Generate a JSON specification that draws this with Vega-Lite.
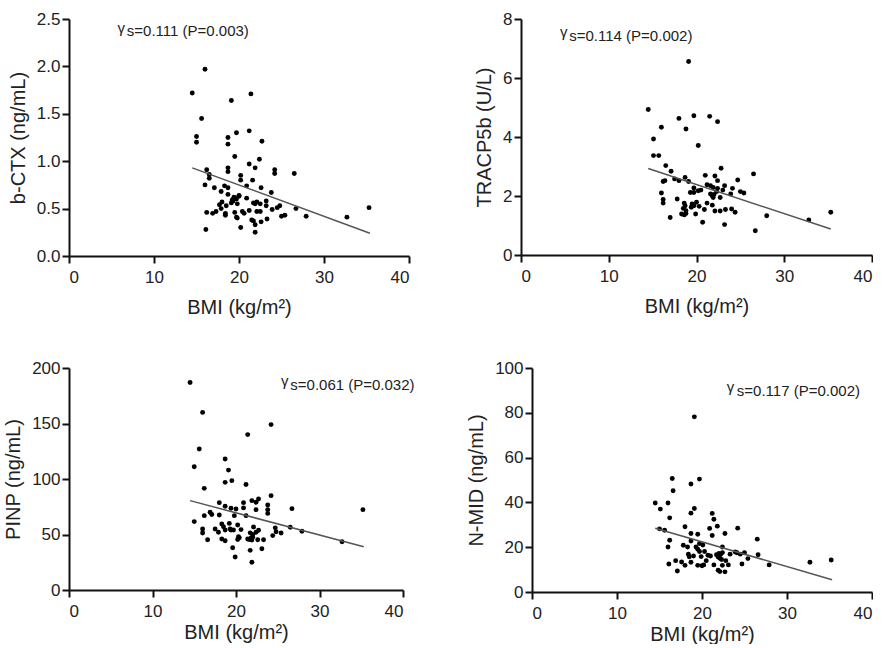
{
  "$schema": "https://vega.github.io/schema/vega-lite/v6.json",
  "background": "white",
  "padding": {"left": 3, "top": 10, "right": 0, "bottom": 0},
  "spacing": 42,
  "config": {
    "view": {"stroke": null},
    "font": "Liberation Sans",
    "axis": {"grid": false, "domainColor": "#111", "domainWidth": 2, "tickColor": "#111", "tickWidth": 2, "tickSize": 7,
             "labelFont": "Liberation Sans", "labelFontSize": 17, "labelColor": "#222", "labelPadding": 2,
             "titleFont": "Liberation Sans", "titleFontSize": 20, "titleFontWeight": "normal", "titleColor": "#222", "titlePadding": 8},
    "axisX": {"labelPadding": 6},
    "text": {"font": "Liberation Sans", "fontSize": 15, "color": "#222"}
  },
  "datasets": {
    "ctx": [
      {"bmi":16.0,"value":1.97},{"bmi":14.5,"value":1.72},{"bmi":21.4,"value":1.71},{"bmi":19.1,"value":1.64},{"bmi":15.6,"value":1.45},
      {"bmi":15.0,"value":1.26},{"bmi":15.0,"value":1.20},{"bmi":18.7,"value":1.25},{"bmi":18.7,"value":1.18},{"bmi":19.7,"value":1.30},
      {"bmi":21.2,"value":1.32},{"bmi":22.7,"value":1.21},{"bmi":19.5,"value":1.05},{"bmi":22.4,"value":1.02},{"bmi":21.2,"value":0.97},
      {"bmi":16.2,"value":0.91},{"bmi":18.7,"value":0.93},{"bmi":18.7,"value":0.89},{"bmi":20.2,"value":0.85},{"bmi":20.2,"value":0.80},
      {"bmi":21.9,"value":0.93},{"bmi":24.2,"value":0.91},{"bmi":24.2,"value":0.87},{"bmi":26.5,"value":0.87},{"bmi":16.5,"value":0.86},
      {"bmi":16.5,"value":0.82},{"bmi":16.0,"value":0.75},{"bmi":17.1,"value":0.72},{"bmi":18.3,"value":0.74},{"bmi":18.7,"value":0.72},
      {"bmi":20.9,"value":0.74},{"bmi":21.6,"value":0.80},{"bmi":22.6,"value":0.72},{"bmi":23.8,"value":0.67},{"bmi":17.9,"value":0.68},
      {"bmi":18.7,"value":0.65},{"bmi":18.0,"value":0.57},{"bmi":19.2,"value":0.59},{"bmi":19.4,"value":0.62},{"bmi":19.7,"value":0.60},
      {"bmi":20.0,"value":0.63},{"bmi":19.1,"value":0.56},{"bmi":18.5,"value":0.53},{"bmi":17.9,"value":0.50},{"bmi":17.3,"value":0.47},
      {"bmi":16.9,"value":0.45},{"bmi":16.2,"value":0.46},{"bmi":18.4,"value":0.45},{"bmi":18.4,"value":0.43},{"bmi":19.5,"value":0.46},
      {"bmi":19.7,"value":0.41},{"bmi":20.4,"value":0.47},{"bmi":20.6,"value":0.45},{"bmi":20.9,"value":0.61},{"bmi":21.7,"value":0.56},
      {"bmi":22.1,"value":0.57},{"bmi":22.5,"value":0.55},{"bmi":23.2,"value":0.58},{"bmi":23.2,"value":0.53},{"bmi":22.1,"value":0.47},
      {"bmi":22.5,"value":0.47},{"bmi":23.9,"value":0.49},{"bmi":24.5,"value":0.51},{"bmi":24.8,"value":0.53},{"bmi":25.0,"value":0.42},
      {"bmi":25.4,"value":0.43},{"bmi":26.7,"value":0.50},{"bmi":27.9,"value":0.42},{"bmi":32.7,"value":0.41},{"bmi":35.3,"value":0.51},
      {"bmi":16.1,"value":0.28},{"bmi":20.2,"value":0.30},{"bmi":21.9,"value":0.25},{"bmi":21.5,"value":0.38},{"bmi":21.7,"value":0.37},
      {"bmi":21.9,"value":0.33},{"bmi":22.6,"value":0.36},{"bmi":23.3,"value":0.39},{"bmi":21.2,"value":0.48},{"bmi":19.8,"value":0.55},
      {"bmi":19.3,"value":0.58},{"bmi":21.9,"value":0.55},{"bmi":19.8,"value":0.40},{"bmi":17.7,"value":0.54},{"bmi":20.0,"value":0.64},
      {"bmi":19.6,"value":0.61}
    ],
    "ctx_fit": [{"bmi":14.5,"value":0.93},{"bmi":35.4,"value":0.24}],
    "ctx_note": [{"bmi":5.7,"value":2.41,"label":"γ"},{"bmi":6.8,"value":2.37,"label":"s=0.111 (P=0.003)"}],
    "tracp": [
      {"bmi":19.1,"value":6.56},{"bmi":14.5,"value":4.93},{"bmi":18.0,"value":4.63},{"bmi":19.7,"value":4.72},{"bmi":21.5,"value":4.70},
      {"bmi":22.4,"value":4.52},{"bmi":16.0,"value":4.33},{"bmi":18.8,"value":4.27},{"bmi":15.1,"value":3.93},{"bmi":20.2,"value":3.71},
      {"bmi":15.1,"value":3.37},{"bmi":15.7,"value":3.37},{"bmi":16.5,"value":3.03},{"bmi":17.1,"value":2.84},{"bmi":22.8,"value":2.94},
      {"bmi":26.5,"value":2.75},{"bmi":16.2,"value":2.49},{"bmi":16.4,"value":2.52},{"bmi":17.5,"value":2.58},{"bmi":18.0,"value":2.52},
      {"bmi":18.7,"value":2.63},{"bmi":19.1,"value":2.49},{"bmi":21.0,"value":2.70},{"bmi":22.1,"value":2.68},{"bmi":22.4,"value":2.52},
      {"bmi":24.7,"value":2.54},{"bmi":21.2,"value":2.38},{"bmi":21.6,"value":2.35},{"bmi":21.9,"value":2.29},{"bmi":23.2,"value":2.35},
      {"bmi":19.7,"value":2.27},{"bmi":20.2,"value":2.18},{"bmi":19.3,"value":2.12},{"bmi":19.7,"value":2.12},{"bmi":16.0,"value":2.10},
      {"bmi":24.1,"value":2.26},{"bmi":25.0,"value":2.15},{"bmi":25.4,"value":2.10},{"bmi":22.4,"value":2.26},{"bmi":21.6,"value":2.07},
      {"bmi":21.8,"value":2.01},{"bmi":22.7,"value":1.95},{"bmi":23.9,"value":2.07},{"bmi":17.8,"value":1.90},{"bmi":16.2,"value":1.88},
      {"bmi":16.2,"value":1.76},{"bmi":18.6,"value":1.76},{"bmi":18.7,"value":1.67},{"bmi":19.5,"value":1.73},{"bmi":19.7,"value":1.67},
      {"bmi":20.0,"value":1.79},{"bmi":20.3,"value":1.65},{"bmi":21.2,"value":1.76},{"bmi":21.8,"value":1.69},{"bmi":18.5,"value":1.58},
      {"bmi":18.8,"value":1.50},{"bmi":20.9,"value":1.54},{"bmi":22.1,"value":1.49},{"bmi":22.7,"value":1.49},{"bmi":23.3,"value":1.54},
      {"bmi":24.0,"value":1.56},{"bmi":24.4,"value":1.45},{"bmi":18.3,"value":1.39},{"bmi":18.6,"value":1.36},{"bmi":18.8,"value":1.41},
      {"bmi":19.9,"value":1.39},{"bmi":28.0,"value":1.33},{"bmi":35.3,"value":1.45},{"bmi":32.8,"value":1.19},{"bmi":17.0,"value":1.27},
      {"bmi":20.7,"value":1.11},{"bmi":23.2,"value":1.03},{"bmi":26.7,"value":0.82},{"bmi":22.0,"value":2.05},{"bmi":20.5,"value":2.20},
      {"bmi":19.4,"value":1.62},{"bmi":21.9,"value":1.95},{"bmi":23.0,"value":2.20},{"bmi":22.3,"value":2.15}
    ],
    "tracp_fit": [{"bmi":14.5,"value":2.93},{"bmi":35.3,"value":0.88}],
    "tracp_note": [{"bmi":4.45,"value":7.55,"label":"γ"},{"bmi":5.5,"value":7.42,"label":"s=0.114 (P=0.002)"}],
    "pinp": [
      {"bmi":14.5,"value":187},{"bmi":16.0,"value":160},{"bmi":24.2,"value":149},{"bmi":21.4,"value":140},{"bmi":15.6,"value":127},
      {"bmi":15.0,"value":111},{"bmi":18.7,"value":118},{"bmi":19.1,"value":108},{"bmi":19.5,"value":98.5},{"bmi":18.7,"value":97},
      {"bmi":21.2,"value":95},{"bmi":16.2,"value":91.6},{"bmi":24.2,"value":85},{"bmi":15.0,"value":61.6},{"bmi":16.2,"value":67},
      {"bmi":16.9,"value":70},{"bmi":17.1,"value":68},{"bmi":18.0,"value":78.7},{"bmi":18.7,"value":75.4},{"bmi":19.4,"value":73.6},
      {"bmi":20.0,"value":73},{"bmi":20.9,"value":78.7},{"bmi":20.9,"value":74},{"bmi":21.9,"value":80.5},{"bmi":22.7,"value":82},
      {"bmi":22.4,"value":79},{"bmi":23.8,"value":72.4},{"bmi":23.8,"value":76.6},{"bmi":23.8,"value":69},{"bmi":26.7,"value":73.3},
      {"bmi":35.2,"value":72.4},{"bmi":19.8,"value":67},{"bmi":21.2,"value":67},{"bmi":22.4,"value":72.4},{"bmi":18.0,"value":67.6},
      {"bmi":17.5,"value":55},{"bmi":18.3,"value":59.5},{"bmi":18.5,"value":57},{"bmi":18.7,"value":54},{"bmi":17.9,"value":52},
      {"bmi":16.0,"value":55},{"bmi":16.0,"value":51.4},{"bmi":19.2,"value":60},{"bmi":19.4,"value":54},{"bmi":19.7,"value":54},
      {"bmi":20.2,"value":58.6},{"bmi":20.6,"value":54.4},{"bmi":22.1,"value":56.8},{"bmi":22.4,"value":52},{"bmi":22.7,"value":53.8},
      {"bmi":24.7,"value":56},{"bmi":25.4,"value":51.4},{"bmi":24.4,"value":49},{"bmi":26.5,"value":56.5},{"bmi":27.9,"value":52.9},
      {"bmi":32.7,"value":43.5},{"bmi":16.6,"value":45.3},{"bmi":18.3,"value":46},{"bmi":18.7,"value":44.4},{"bmi":20.3,"value":48},
      {"bmi":20.2,"value":45.5},{"bmi":20.4,"value":47},{"bmi":21.4,"value":46},{"bmi":21.6,"value":45.5},{"bmi":21.8,"value":47},
      {"bmi":21.9,"value":45},{"bmi":22.0,"value":47.5},{"bmi":22.6,"value":45.3},{"bmi":23.3,"value":45.3},{"bmi":19.6,"value":38},
      {"bmi":21.7,"value":35.7},{"bmi":23.1,"value":37.2},{"bmi":19.9,"value":29.7},{"bmi":21.9,"value":25},{"bmi":24.8,"value":52.5},
      {"bmi":22.0,"value":50},{"bmi":21.7,"value":51.5},{"bmi":19.3,"value":55}
    ],
    "pinp_fit": [{"bmi":14.5,"value":80.5},{"bmi":35.3,"value":39}],
    "pinp_note": [{"bmi":25.4,"value":188,"label":"γ"},{"bmi":26.5,"value":184.5,"label":"s=0.061 (P=0.032)"}],
    "nmid": [
      {"bmi":19.1,"value":78.2},{"bmi":16.5,"value":50.7},{"bmi":19.7,"value":50.4},{"bmi":18.7,"value":48.2},{"bmi":16.6,"value":45.2},
      {"bmi":14.5,"value":39.7},{"bmi":16.0,"value":39.7},{"bmi":15.1,"value":37.0},{"bmi":19.1,"value":37.3},{"bmi":18.7,"value":35.2},
      {"bmi":21.2,"value":35.1},{"bmi":21.4,"value":32.5},{"bmi":16.2,"value":33.1},{"bmi":21.8,"value":29.4},{"bmi":18.0,"value":29.1},
      {"bmi":24.2,"value":28.5},{"bmi":20.9,"value":28.4},{"bmi":15.0,"value":28.2},{"bmi":15.6,"value":27.6},{"bmi":18.7,"value":26.1},
      {"bmi":19.5,"value":25.8},{"bmi":21.2,"value":25.2},{"bmi":22.7,"value":26.1},{"bmi":26.5,"value":23.6},{"bmi":16.2,"value":23.1},
      {"bmi":18.7,"value":22.8},{"bmi":19.7,"value":21.6},{"bmi":20.1,"value":21.0},{"bmi":16.0,"value":20.1},{"bmi":17.8,"value":20.9},
      {"bmi":18.3,"value":20.1},{"bmi":19.3,"value":20.1},{"bmi":19.5,"value":19.1},{"bmi":19.7,"value":18.1},{"bmi":22.4,"value":20.1},
      {"bmi":20.3,"value":18.1},{"bmi":22.4,"value":17.6},{"bmi":22.0,"value":17.2},{"bmi":22.2,"value":16.8},{"bmi":23.9,"value":17.9},
      {"bmi":24.1,"value":17.5},{"bmi":23.3,"value":16.9},{"bmi":25.0,"value":17.5},{"bmi":24.5,"value":16.9},{"bmi":26.6,"value":16.6},
      {"bmi":18.4,"value":16.9},{"bmi":18.5,"value":15.7},{"bmi":19.0,"value":16.1},{"bmi":19.9,"value":15.8},{"bmi":20.7,"value":16.4},
      {"bmi":21.0,"value":16.1},{"bmi":21.7,"value":16.6},{"bmi":21.9,"value":15.6},{"bmi":25.4,"value":14.9},{"bmi":22.1,"value":15.1},
      {"bmi":22.3,"value":14.5},{"bmi":16.9,"value":14.0},{"bmi":17.6,"value":13.4},{"bmi":18.7,"value":13.3},{"bmi":16.1,"value":12.5},
      {"bmi":18.0,"value":11.9},{"bmi":19.5,"value":11.9},{"bmi":20.0,"value":11.7},{"bmi":20.2,"value":12.1},{"bmi":21.4,"value":12.1},
      {"bmi":22.4,"value":11.9},{"bmi":23.1,"value":12.1},{"bmi":24.7,"value":12.5},{"bmi":27.9,"value":12.1},{"bmi":32.7,"value":13.3},
      {"bmi":35.2,"value":14.3},{"bmi":17.1,"value":9.4},{"bmi":21.9,"value":9.7},{"bmi":22.1,"value":9.1},{"bmi":22.7,"value":9.0},
      {"bmi":20.5,"value":14.0},{"bmi":22.8,"value":14.0}
    ],
    "nmid_fit": [{"bmi":14.5,"value":28.5},{"bmi":35.3,"value":5.5}],
    "nmid_note": [{"bmi":22.9,"value":91.5,"label":"γ"},{"bmi":24.1,"value":89.8,"label":"s=0.117 (P=0.002)"}]
  },
  "vconcat": [
    {
      "bounds": "flush",
      "spacing": 112,
      "hconcat": [
        {
          "width": 340, "height": 237,
          "layer": [
            {"data": {"name": "ctx"}, "mark": {"type": "circle", "size": 24, "color": "#000", "opacity": 1},
             "encoding": {
               "x": {"field": "bmi", "type": "quantitative", "scale": {"domain": [0, 40], "nice": false}, "axis": {"values": [0, 10, 20, 30, 40], "title": "BMI (kg/m²)", "titlePadding": 12}},
               "y": {"field": "value", "type": "quantitative", "scale": {"domain": [0, 2.5], "nice": false}, "axis": {"values": [0, 0.5, 1, 1.5, 2, 2.5], "format": ".1f", "title": "b-CTX (ng/mL)"}}}},
            {"data": {"name": "ctx_fit"}, "mark": {"type": "line", "color": "#555", "strokeWidth": 1.5},
             "encoding": {"x": {"field": "bmi", "type": "quantitative"}, "y": {"field": "value", "type": "quantitative"}}},
            {"data": {"name": "ctx_note"}, "mark": {"type": "text", "align": "left", "baseline": "middle"},
             "encoding": {"x": {"field": "bmi", "type": "quantitative"}, "y": {"field": "value", "type": "quantitative"}, "text": {"field": "label"}}}
          ]
        },
        {
          "width": 351, "height": 236,
          "layer": [
            {"data": {"name": "tracp"}, "mark": {"type": "circle", "size": 24, "color": "#000", "opacity": 1},
             "encoding": {
               "x": {"field": "bmi", "type": "quantitative", "scale": {"domain": [0, 40], "nice": false}, "axis": {"values": [0, 10, 20, 30, 40], "title": "BMI (kg/m²)", "titlePadding": 12}},
               "y": {"field": "value", "type": "quantitative", "scale": {"domain": [0, 8], "nice": false}, "axis": {"values": [0, 2, 4, 6, 8], "title": "TRACP5b (U/L)"}}}},
            {"data": {"name": "tracp_fit"}, "mark": {"type": "line", "color": "#555", "strokeWidth": 1.5},
             "encoding": {"x": {"field": "bmi", "type": "quantitative"}, "y": {"field": "value", "type": "quantitative"}}},
            {"data": {"name": "tracp_note"}, "mark": {"type": "text", "align": "left", "baseline": "middle"},
             "encoding": {"x": {"field": "bmi", "type": "quantitative"}, "y": {"field": "value", "type": "quantitative"}, "text": {"field": "label"}}}
          ]
        }
      ]
    },
    {
      "bounds": "flush",
      "spacing": 129,
      "hconcat": [
        {
          "width": 334, "height": 222,
          "layer": [
            {"data": {"name": "pinp"}, "mark": {"type": "circle", "size": 24, "color": "#000", "opacity": 1},
             "encoding": {
               "x": {"field": "bmi", "type": "quantitative", "scale": {"domain": [0, 40], "nice": false}, "axis": {"values": [0, 10, 20, 30, 40], "title": "BMI (kg/m²)", "titlePadding": 3}},
               "y": {"field": "value", "type": "quantitative", "scale": {"domain": [0, 200], "nice": false}, "axis": {"values": [0, 50, 100, 150, 200], "title": "PINP (ng/mL)"}}}},
            {"data": {"name": "pinp_fit"}, "mark": {"type": "line", "color": "#555", "strokeWidth": 1.5},
             "encoding": {"x": {"field": "bmi", "type": "quantitative"}, "y": {"field": "value", "type": "quantitative"}}},
            {"data": {"name": "pinp_note"}, "mark": {"type": "text", "align": "left", "baseline": "middle"},
             "encoding": {"x": {"field": "bmi", "type": "quantitative"}, "y": {"field": "value", "type": "quantitative"}, "text": {"field": "label"}}}
          ]
        },
        {
          "width": 340, "height": 224,
          "layer": [
            {"data": {"name": "nmid"}, "mark": {"type": "circle", "size": 24, "color": "#000", "opacity": 1},
             "encoding": {
               "x": {"field": "bmi", "type": "quantitative", "scale": {"domain": [0, 40], "nice": false}, "axis": {"values": [0, 10, 20, 30, 40], "title": "BMI (kg/m²)", "titlePadding": 3}},
               "y": {"field": "value", "type": "quantitative", "scale": {"domain": [0, 100], "nice": false}, "axis": {"values": [0, 20, 40, 60, 80, 100], "title": "N-MID (ng/mL)"}}}},
            {"data": {"name": "nmid_fit"}, "mark": {"type": "line", "color": "#555", "strokeWidth": 1.5},
             "encoding": {"x": {"field": "bmi", "type": "quantitative"}, "y": {"field": "value", "type": "quantitative"}}},
            {"data": {"name": "nmid_note"}, "mark": {"type": "text", "align": "left", "baseline": "middle"},
             "encoding": {"x": {"field": "bmi", "type": "quantitative"}, "y": {"field": "value", "type": "quantitative"}, "text": {"field": "label"}}}
          ]
        }
      ]
    }
  ]
}
